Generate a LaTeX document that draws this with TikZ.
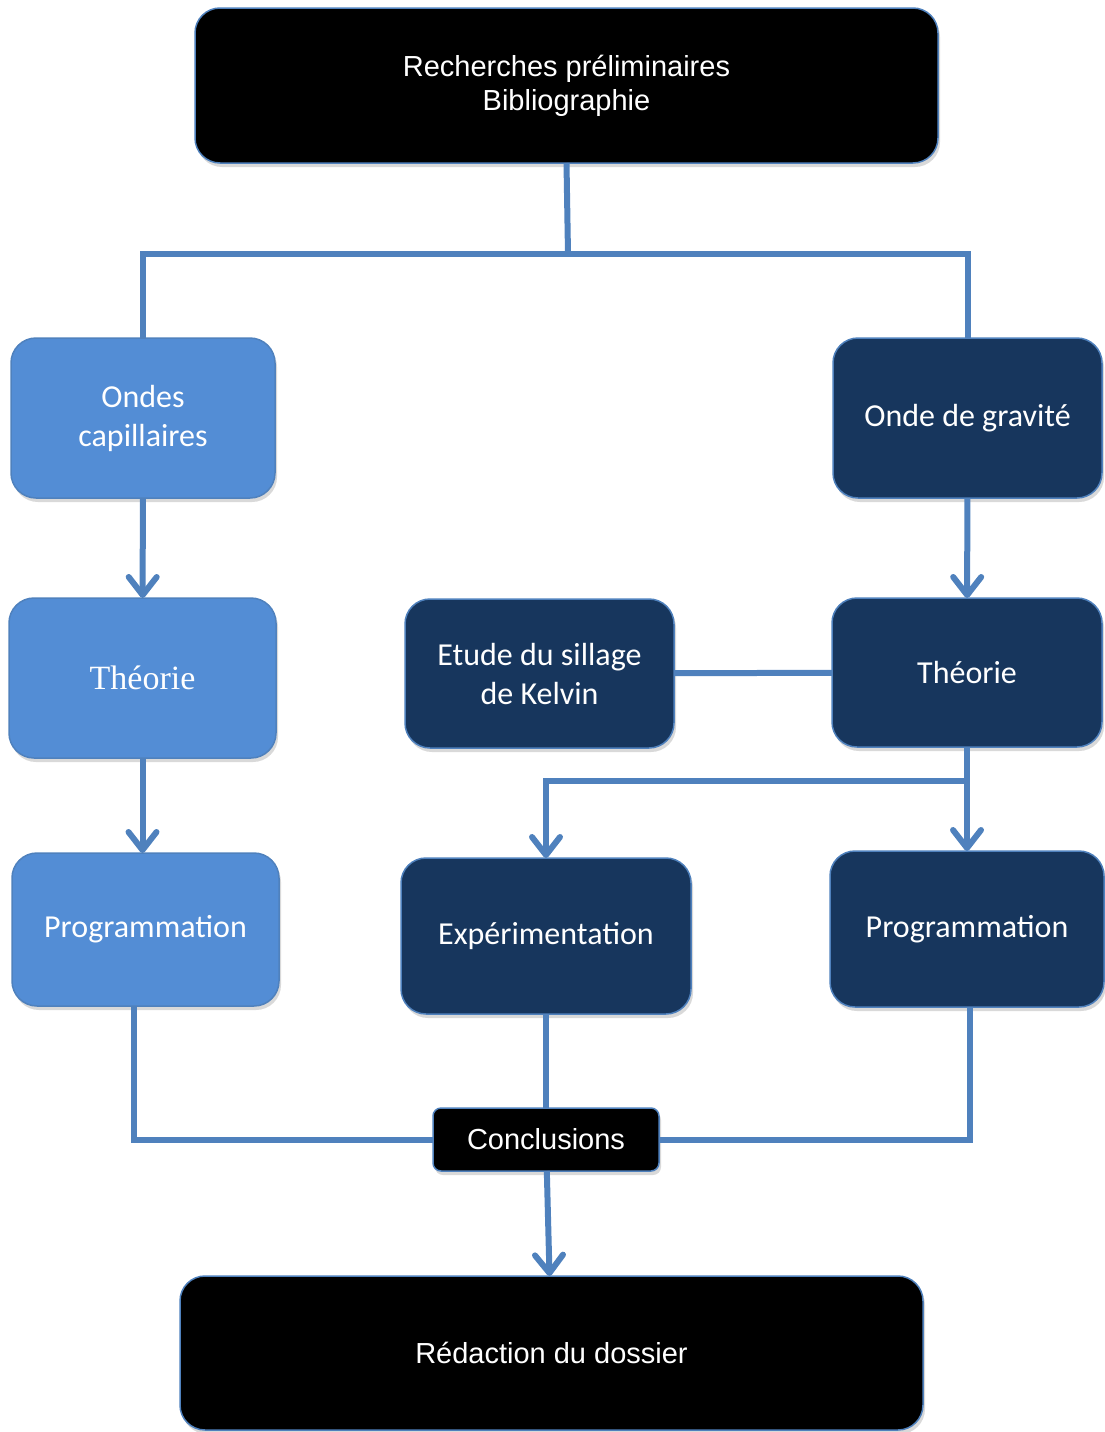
\documentclass[tikz,border=0pt]{standalone}
\usepackage{fontspec}
\usetikzlibrary{arrows.meta,shadows}
\newfontfamily\arialfont{Liberation Sans}
\newfontfamily\calfont{Carlito}
\newfontfamily\camfont{Liberation Serif}
\definecolor{lineblue}{RGB}{79,129,189}
\definecolor{lightfill}{RGB}{83,141,213}
\definecolor{navy}{RGB}{23,54,93}
\begin{document}
\begin{tikzpicture}[x=1pt,y=-1pt,inner sep=0pt,outer sep=0pt,
basebox/.style={draw=lineblue,rectangle,rounded corners=25pt,line width=1.5pt,text=white,align=center,
  drop shadow={opacity=0.3,shadow xshift=2pt,shadow yshift=-4pt}},
blackbox/.style={basebox,fill=black,font=\arialfont\fontsize{29}{34}\selectfont},
lightbox/.style={basebox,fill=lightfill,font=\calfont\fontsize{32}{39}\selectfont},
navybox/.style={basebox,fill=navy,font=\calfont\fontsize{32}{39}\selectfont},
link/.style={draw=lineblue,line width=6pt},
arr/.style={link,-{Straight Barb[length=18pt,width=28pt,round]}}]
\useasboundingbox (0,0) rectangle (1104,1432);
\draw (566.5,85.5) node[blackbox,minimum width=743pt,minimum height=155pt] (rech) {Recherches préliminaires\\Bibliographie};
\draw (143,418) node[lightbox,minimum width=264pt,minimum height=160pt] (ondes) {Ondes\\capillaires};
\draw (967.5,418) node[navybox,minimum width=269pt,minimum height=160pt] (gravite) {Onde de gravité};
\draw (142.5,678) node[lightbox,minimum width=267pt,minimum height=160pt,font=\camfont\fontsize{34}{40}\selectfont] (theoL) {Théorie};
\draw (539.5,673.5) node[navybox,minimum width=269pt,minimum height=149pt] (etude) {Etude du sillage\\de Kelvin};
\draw (967,672.5) node[navybox,minimum width=270pt,minimum height=149pt] (theoR) {Théorie};
\draw (145.5,929.5) node[lightbox,minimum width=267pt,minimum height=153pt] (progL) {Programmation};
\draw (546,936) node[navybox,minimum width=290pt,minimum height=156pt] (exper) {Expérimentation};
\draw (967,929) node[navybox,minimum width=274pt,minimum height=156pt] (progR) {Programmation};
\draw (546,1139.5) node[blackbox,rounded corners=8pt,minimum width=226pt,minimum height=63pt] (concl) {Conclusions};
\draw (551.5,1353) node[blackbox,minimum width=743pt,minimum height=154pt] (redac) {Rédaction du dossier};
\coordinate (split) at (568,254);
\coordinate (fork) at (967,781);
\draw[link] (rech.south) -- (split);
\draw[link] (ondes.north) |- (split) -| (gravite.north);
\draw[arr] (ondes) -- (theoL);
\draw[arr] (theoL.south) -- (theoL.south |- progL.north);
\draw[arr] (gravite) -- (theoR);
\draw[link] (etude) -- (theoR);
\draw[arr] (theoR.south) -- (theoR.south |- progR.north);
\draw[arr] (fork) -| (exper.north);
\draw[link] ([xshift=-12pt]progL.south) |- (concl.west);
\draw[link] (exper) -- (concl);
\draw[link] ([xshift=3pt]progR.south) |- (concl.east);
\draw[arr] (concl) -- (redac);
\end{tikzpicture}
\end{document}
